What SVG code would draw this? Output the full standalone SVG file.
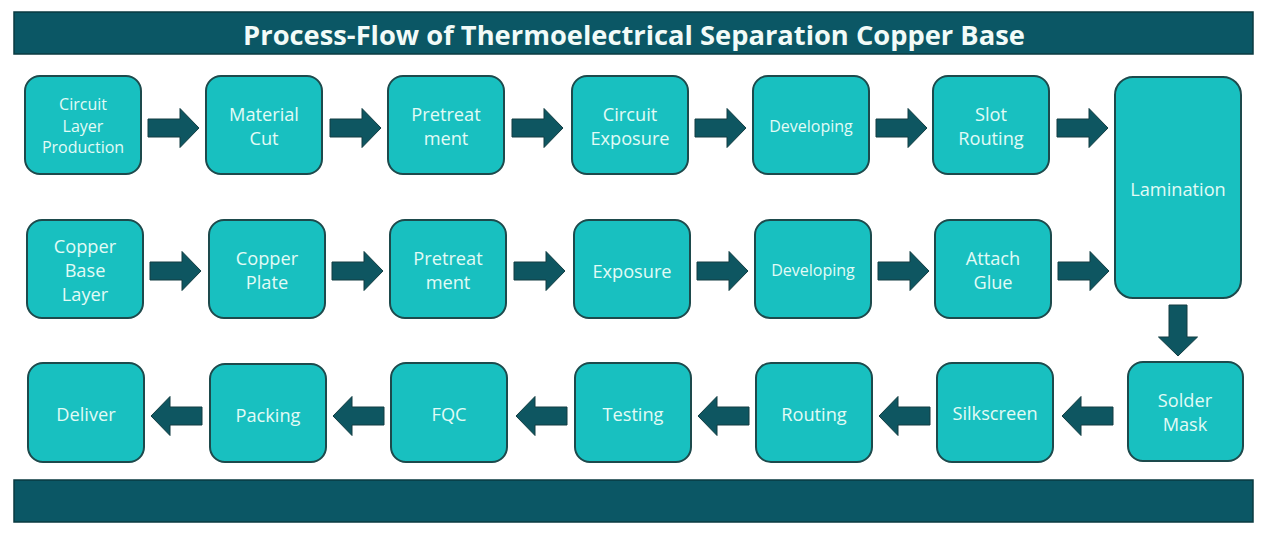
<svg xmlns="http://www.w3.org/2000/svg" width="1268" height="533" viewBox="0 0 1268 533">
<style>
.bar{fill:#0b5765;stroke:#0a3a40;stroke-width:1.5}
.box{fill:#18c0c0;stroke:#1d4a4c;stroke-width:2}
.t{font-family:"Open Sans","Liberation Sans",sans-serif;font-size:18.2px;fill:#e2fbf6;text-anchor:middle;dominant-baseline:central}
.s{font-size:16px}
.title{font-family:"Open Sans","Liberation Sans",sans-serif;font-weight:bold;font-size:27.3px;fill:#f2fbf8;text-anchor:middle;dominant-baseline:central}
.arr{fill:#0e5661;stroke:#123d42;stroke-width:1}
</style>
<defs>
<path id="ar" d="M0,-9 H32 V-19.5 L51,0 L32,19.5 V9 H0 Z"/>
</defs>
<rect width="1268" height="533" fill="#ffffff"/>
<g id="header"><rect class="bar" x="14" y="12" width="1239" height="42"/><text class="title" x="634" y="34">Process-Flow of Thermoelectrical Separation Copper Base</text></g>
<g id="footer"><rect class="bar" x="14" y="480" width="1239" height="42"/></g>

<g id="connectors">
<use href="#ar" class="arr" transform="translate(148,128)"/>
<use href="#ar" class="arr" transform="translate(330,128)"/>
<use href="#ar" class="arr" transform="translate(512,128)"/>
<use href="#ar" class="arr" transform="translate(695,128)"/>
<use href="#ar" class="arr" transform="translate(876,128)"/>
<use href="#ar" class="arr" transform="translate(1057,128)"/>
<use href="#ar" class="arr" transform="translate(150,271)"/>
<use href="#ar" class="arr" transform="translate(332,271)"/>
<use href="#ar" class="arr" transform="translate(514,271)"/>
<use href="#ar" class="arr" transform="translate(697,271)"/>
<use href="#ar" class="arr" transform="translate(878,271)"/>
<use href="#ar" class="arr" transform="translate(1058,271)"/>
<use href="#ar" class="arr" transform="translate(1178,305) rotate(90)"/>
<use href="#ar" class="arr" transform="translate(1113,416) rotate(180)"/>
<use href="#ar" class="arr" transform="translate(930,416) rotate(180)"/>
<use href="#ar" class="arr" transform="translate(749,416) rotate(180)"/>
<use href="#ar" class="arr" transform="translate(567,416) rotate(180)"/>
<use href="#ar" class="arr" transform="translate(384,416) rotate(180)"/>
<use href="#ar" class="arr" transform="translate(202,416) rotate(180)"/>
</g>

<g id="n-circuit-layer"><rect class="box" x="25" y="76" width="116" height="98" rx="15"/><text class="t s" x="83" y="104">Circuit</text><text class="t s" x="83" y="125.5">Layer</text><text class="t s" x="83" y="147">Production</text></g>
<g id="n-material-cut"><rect class="box" x="206" y="76" width="116" height="98" rx="15"/><text class="t" x="264" y="114">Material</text><text class="t" x="264" y="138">Cut</text></g>
<g id="n-pretreat1"><rect class="box" x="388" y="76" width="116" height="98" rx="15"/><text class="t" x="446" y="114">Pretreat</text><text class="t" x="446" y="138">ment</text></g>
<g id="n-circuit-exposure"><rect class="box" x="572" y="76" width="116" height="98" rx="15"/><text class="t" x="630" y="114">Circuit</text><text class="t" x="630" y="138">Exposure</text></g>
<g id="n-developing1"><rect class="box" x="753" y="76" width="116" height="98" rx="15"/><text class="t s" x="811" y="126">Developing</text></g>
<g id="n-slot-routing"><rect class="box" x="933" y="76" width="116" height="98" rx="15"/><text class="t" x="991" y="114">Slot</text><text class="t" x="991" y="138">Routing</text></g>
<g id="n-lamination"><rect class="box" x="1115" y="77" width="126" height="221" rx="18"/><text class="t" x="1178" y="189">Lamination</text></g>

<g id="n-copper-base"><rect class="box" x="27" y="220" width="116" height="98" rx="15"/><text class="t" x="85" y="246">Copper</text><text class="t" x="85" y="270">Base</text><text class="t" x="85" y="294">Layer</text></g>
<g id="n-copper-plate"><rect class="box" x="209" y="220" width="116" height="98" rx="15"/><text class="t" x="267" y="258">Copper</text><text class="t" x="267" y="282">Plate</text></g>
<g id="n-pretreat2"><rect class="box" x="390" y="220" width="116" height="98" rx="15"/><text class="t" x="448" y="258">Pretreat</text><text class="t" x="448" y="282">ment</text></g>
<g id="n-exposure"><rect class="box" x="574" y="220" width="116" height="98" rx="15"/><text class="t" x="632" y="271">Exposure</text></g>
<g id="n-developing2"><rect class="box" x="755" y="220" width="116" height="98" rx="15"/><text class="t s" x="813" y="270">Developing</text></g>
<g id="n-attach-glue"><rect class="box" x="935" y="220" width="116" height="98" rx="15"/><text class="t" x="993" y="258">Attach</text><text class="t" x="993" y="282">Glue</text></g>

<g id="n-deliver"><rect class="box" x="28" y="363" width="116" height="99" rx="15"/><text class="t" x="86" y="414">Deliver</text></g>
<g id="n-packing"><rect class="box" x="210" y="364" width="116" height="98" rx="15"/><text class="t" x="268" y="415">Packing</text></g>
<g id="n-fqc"><rect class="box" x="391" y="363" width="116" height="99" rx="15"/><text class="t" x="449" y="414">FQC</text></g>
<g id="n-testing"><rect class="box" x="575" y="363" width="116" height="99" rx="15"/><text class="t" x="633" y="414">Testing</text></g>
<g id="n-routing"><rect class="box" x="756" y="363" width="116" height="99" rx="15"/><text class="t" x="814" y="414">Routing</text></g>
<g id="n-silkscreen"><rect class="box" x="937" y="363" width="116" height="99" rx="15"/><text class="t" x="995" y="413">Silkscreen</text></g>
<g id="n-solder-mask"><rect class="box" x="1128" y="362" width="115" height="99" rx="15"/><text class="t" x="1185" y="400">Solder</text><text class="t" x="1185" y="424">Mask</text></g>
</svg>
